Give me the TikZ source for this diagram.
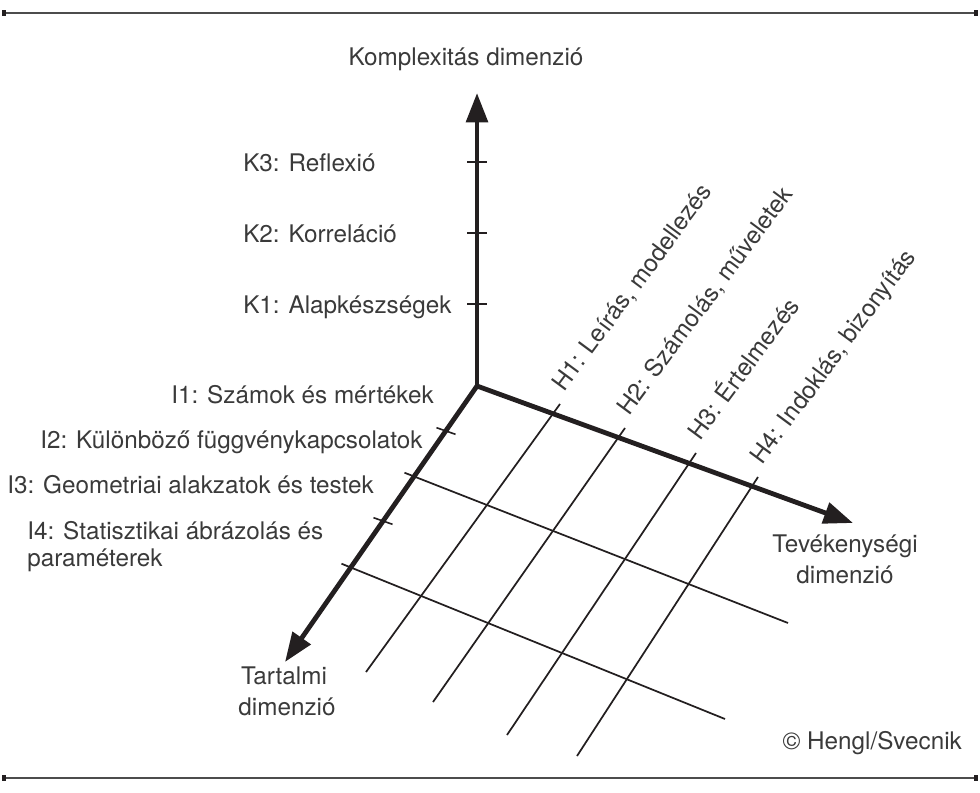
\documentclass[tikz,border=0pt]{standalone}
\usepackage{fontspec}
\setmainfont{TeX Gyre Heros}
\usetikzlibrary{arrows.meta,calc}
\definecolor{ink}{HTML}{231F20}
\definecolor{txt}{HTML}{3A3A3A}
\begin{document}
\begin{tikzpicture}[x=0.75pt,y=-0.75pt,axis/.style={line width=3.6pt,draw=ink,line cap=round,-{Triangle[length=22pt,width=16pt]}},tick/.style={line width=1.2pt,draw=ink},gridl/.style={line width=1.3pt,draw=ink},lbl/.style={inner sep=0pt,text=txt,font=\fontsize{18.2}{22}\selectfont},hlbl/.style={lbl,rotate=53.5,anchor=base west},rulel/.style={line width=1.1pt,draw=black!70},endsq/.style={fill=ink,minimum width=3pt,minimum height=4.5pt,inner sep=0pt}]
\useasboundingbox (0,0) rectangle (980,792);

\node[endsq] (tl) at (4,13) {};
\node[endsq] (tr) at (976,13) {};
\draw[rulel] (tl) -- (tr);
\node[endsq] (bl) at (4,778) {};
\node[endsq] (br) at (976,778) {};
\draw[rulel] (bl) -- (br);

\coordinate (O) at (477,386);
\coordinate (Kend) at (477,93);
\coordinate (Hend) at (853,523);
\coordinate (Iend) at (285,662);

\coordinate (k1) at (477,304);
\coordinate (k2) at (477,233);
\coordinate (k3) at (477,162);
\draw[tick] ($(k1)+(-10,0)$) -- ($(k1)+(10,0)$);
\draw[tick] ($(k2)+(-10,0)$) -- ($(k2)+(10,0)$);
\draw[tick] ($(k3)+(-10,0)$) -- ($(k3)+(10,0)$);

\coordinate (i1) at (446,431);
\coordinate (i2) at (414,476);
\coordinate (i3) at (383,521);
\coordinate (i4) at (351,567);
\draw[tick] ($(i1)+(-9.5,-3.3)$) -- ($(i1)+(9.5,3.3)$);
\draw[tick] ($(i3)+(-9.5,-3.3)$) -- ($(i3)+(9.5,3.3)$);

\coordinate (g2a) at ($(i2)+(-9.5,-3.3)$);
\coordinate (g2b) at (788,623);
\draw[gridl] (g2a) -- (g2b);
\coordinate (g4a) at ($(i4)+(-9.5,-3.3)$);
\coordinate (g4b) at (725,719);
\draw[gridl] (g4a) -- (g4b);

\coordinate (h1a) at (560,404);
\coordinate (h1b) at (366,672);
\draw[gridl] (h1a) -- (h1b);
\coordinate (h2a) at (625,428);
\coordinate (h2b) at (433,702);
\draw[gridl] (h2a) -- (h2b);
\coordinate (h3a) at (696,453);
\coordinate (h3b) at (507,735);
\draw[gridl] (h3a) -- (h3b);
\coordinate (h4a) at (758,477);
\coordinate (h4b) at (577,756);
\draw[gridl] (h4a) -- (h4b);

\draw[axis] (O) -- (Kend);
\draw[axis] (O) -- (Hend);
\draw[axis] (O) -- (Iend);

\node[lbl,anchor=base] (kdim) at (466,65) {Komplexitás dimenzió};
\node[lbl,anchor=base west] (k3l) at (243,171) {K3: Reflexió};
\node[lbl,anchor=base west] (k2l) at (243,242) {K2: Korreláció};
\node[lbl,anchor=base west] (k1l) at (243,313) {K1: Alapkészségek};

\node[lbl,anchor=base west] (i1l) at (171,403) {I1: Számok és mértékek};
\node[lbl,anchor=base west] (i2l) at (40,448) {I2: Különböző függvénykapcsolatok};
\node[lbl,anchor=base west] (i3l) at (7,493) {I3: Geometriai alakzatok és testek};
\node[lbl,anchor=base west] (i4l) at (27,539) {I4: Statisztikai ábrázolás és};
\node[lbl,anchor=base west] (i4m) at (27,566) {paraméterek};

\node[hlbl] (h1l) at (564,393) {H1: Leírás, modellezés};
\node[hlbl] (h2l) at (629,417) {H2: Számolás, műveletek};
\node[hlbl] (h3l) at (700,442) {H3: Értelmezés};
\node[hlbl] (h4l) at (762,466) {H4: Indoklás, bizonyítás};

\node[lbl,anchor=base] (tdim) at (284,684) {Tartalmi};
\node[lbl,anchor=base] (tdim2) at (287,715) {dimenzió};
\node[lbl,anchor=base] (vdim) at (845,552) {Tevékenységi};
\node[lbl,anchor=base] (vdim2) at (845,583) {dimenzió};

\node[lbl,anchor=base east] (copy) at (962,749) {© Hengl/Svecnik};
\end{tikzpicture}
\end{document}
